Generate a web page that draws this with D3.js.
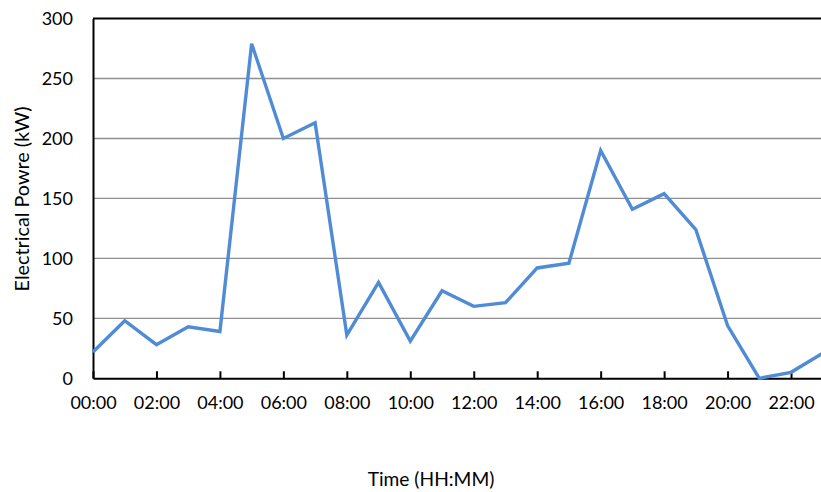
<!DOCTYPE html>
<html>
<head>
<meta charset="utf-8">
<script src="https://cdn.jsdelivr.net/npm/d3@7"></script>
<style>
  html, body { margin: 0; padding: 0; background: #fff; }
  svg { display: block; font-family: Lato, "Open Sans", "Liberation Sans", sans-serif; }
</style>
</head>
<body>
<svg id="chart" width="821" height="492"></svg>
<script>
// Hourly electrical power over one day
const hours = d3.range(0, 24);
const powerKW = [22, 48, 28, 43, 39, 279, 200, 213, 36, 80, 31, 73, 60, 63, 92, 96, 190, 141, 154, 124, 44, 0, 5, 21];
const xTickHours = [0, 2, 4, 6, 8, 10, 12, 14, 16, 18, 20, 22];
const yTicks = [0, 50, 100, 150, 200, 250, 300];
const xTitle = "Time (HH:MM)";
const yTitle = "Electrical Powre (kW)";

const svg = d3.select("#chart");
const plotLeft = 93, plotRight = 822.75, plotTop = 18.5, plotBottom = 378.3;

const x = d3.scaleLinear().domain([0, 23]).range([plotLeft, plotRight]);
const y = d3.scaleLinear().domain([0, 300]).range([plotBottom, plotTop]);

const fmt = h => String(h).padStart(2, "0") + ":00";

// horizontal gridlines
svg.append("g")
  .selectAll("line")
  .data(yTicks.filter(v => v > 0 && v < 300))
  .join("line")
  .attr("x1", plotLeft).attr("x2", 821)
  .attr("y1", d => y(d)).attr("y2", d => y(d))
  .attr("stroke", "#8f8f8f").attr("stroke-width", 1.4);

// top frame line
svg.append("line")
  .attr("x1", plotLeft).attr("x2", 821)
  .attr("y1", y(300)).attr("y2", y(300))
  .attr("stroke", "#000").attr("stroke-width", 1.8);

// y axis
const yAxis = svg.append("g")
  .attr("transform", `translate(${plotLeft},0)`)
  .call(d3.axisLeft(y).tickValues(yTicks).tickSize(0).tickPadding(20));
yAxis.select(".domain").attr("stroke", "#000").attr("stroke-width", 2);
yAxis.selectAll("text").attr("font-size", 18).attr("fill", "#000")
  .attr("font-family", "Lato, 'Open Sans', sans-serif");

// x axis with short inward ticks
const xAxis = svg.append("g")
  .attr("transform", `translate(0,${plotBottom})`)
  .call(d3.axisBottom(x).tickValues(xTickHours).tickFormat(fmt).tickSizeInner(-7).tickSizeOuter(0).tickPadding(18));
xAxis.select(".domain").attr("stroke", "#000").attr("stroke-width", 2);
xAxis.selectAll(".tick line").attr("stroke", "#000").attr("stroke-width", 2);
xAxis.selectAll("text").attr("font-size", 18).attr("fill", "#000")
  .attr("font-family", "Lato, 'Open Sans', sans-serif");

// data line
const line = d3.line().x((d, i) => x(hours[i])).y(d => y(d));
svg.append("path")
  .datum(powerKW)
  .attr("d", line)
  .attr("fill", "none")
  .attr("stroke", "#508bd6")
  .attr("stroke-width", 3.4)
  .attr("stroke-linejoin", "miter");

// axis titles
svg.append("text")
  .attr("x", 431).attr("y", 486)
  .attr("text-anchor", "middle")
  .attr("font-size", 19.2)
  .attr("fill", "#000")
  .text(xTitle);

svg.append("text")
  .attr("transform", `translate(29,199) rotate(-90)`)
  .attr("text-anchor", "middle")
  .attr("font-size", 19.8)
  .attr("fill", "#000")
  .text(yTitle);
</script>
</body>
</html>
